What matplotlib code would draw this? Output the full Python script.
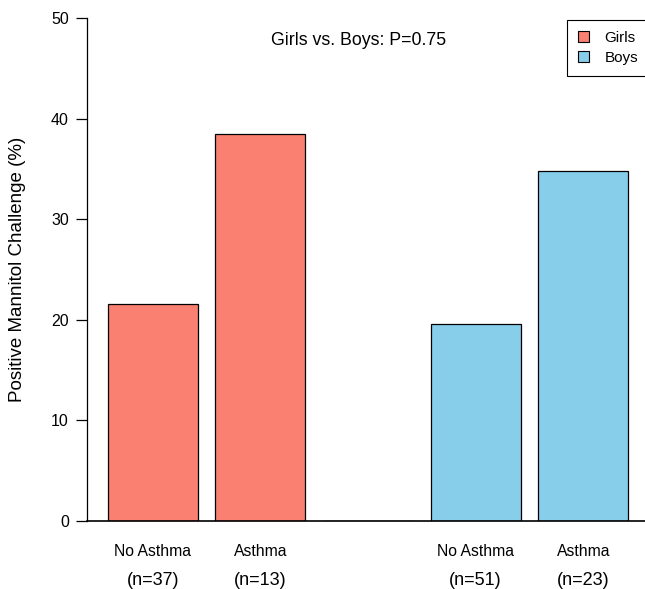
import matplotlib.pyplot as plt

plt.rcParams['font.family'] = ['Liberation Sans', 'DejaVu Sans']

# bar data (middle slot is an empty spacer bar)
categories = ['No Asthma', 'Asthma', '', 'No Asthma', 'Asthma']
n_labels = ['(n=37)', '(n=13)', '', '(n=51)', '(n=23)']
values = [21.6, 38.5, 0.0, 19.6, 34.8]
colors = ['#FA8072', '#FA8072', '#FFFFFF', '#87CEEB', '#87CEEB']
legend_names = ['Girls', 'Boys']
legend_colors = ['#FA8072', '#87CEEB']
yticks = [0, 10, 20, 30, 40, 50]
p_text = 'Girls vs. Boys: P=0.75'

fig = plt.figure(figsize=(6.45, 5.89), dpi=100)
ax = fig.add_axes([87/645, 68/589, 562/645, 503/589])

xpos = [0.7 + 1.2 * i for i in range(len(values))]
ax.bar(xpos, values, width=1.0, color=colors, edgecolor='black', linewidth=0.9)
ax.axhline(0, color='black', linewidth=1.2, clip_on=False, zorder=3)

ax.set_xlim(-0.032, 6.232)
ax.set_ylim(0, 50)

for side in ['top', 'right', 'bottom']:
    ax.spines[side].set_visible(False)
ax.spines['left'].set_linewidth(0.9)
ax.set_xticks([])
ax.set_yticks(yticks)
ax.tick_params(axis='y', length=8, width=0.9, labelsize=11.5, pad=5)

# y label placed by hand, centred on the plot height
ax.text((17.5 - 87) / 562, 0.5, 'Positive Mannitol Challenge (%)', transform=ax.transAxes,
        rotation=90, ha='center', va='center', fontsize=13.5)

for x, c, n in zip(xpos, categories, n_labels):
    ax.text(x, -3.0, c, ha='center', va='center', fontsize=11.3, clip_on=False)
    ax.text(x, -5.9, n, ha='center', va='center', fontsize=13, clip_on=False)

ax.text(3.0, 47.8, p_text, ha='center', va='center', fontsize=12.8)

handles = [plt.Rectangle((0, 0), 1, 1, facecolor=c, edgecolor='black', linewidth=0.8)
           for c in legend_colors]
leg = ax.legend(handles, legend_names, loc='upper right', bbox_to_anchor=(1.0, 0.996),
                borderaxespad=0, fontsize=11, fancybox=False, framealpha=1,
                handlelength=0.75, handleheight=0.75, handletextpad=1.0,
                labelspacing=0.4, borderpad=0.7)
leg.get_frame().set_edgecolor('black')
leg.get_frame().set_linewidth(0.8)

fig.savefig('out.png', dpi=100)
